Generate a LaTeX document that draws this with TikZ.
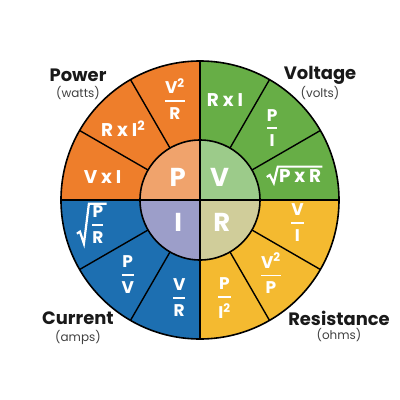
\documentclass[tikz,border=0pt]{standalone}
\usepackage{fontspec}
\setmainfont{Poppins}
\usepackage{amsmath}
\usetikzlibrary{calc}

\definecolor{pwrout}{HTML}{EE7E2B}
\definecolor{pwrin}{HTML}{F0A36C}
\definecolor{voltout}{HTML}{67AE46}
\definecolor{voltin}{HTML}{9CCB8A}
\definecolor{ampout}{HTML}{1D6FB1}
\definecolor{ampin}{HTML}{9C9EC9}
\definecolor{ohmout}{HTML}{F4BA30}
\definecolor{ohmin}{HTML}{D0CD9A}

\newcommand{\qfrac}[2]{$\genfrac{}{}{1.8bp}{0}{\hbox{#1}}{\hbox{#2}}$}
\newcommand{\qsq}{\textsuperscript{2}}

\begin{document}
\begin{tikzpicture}[x=1bp,y=1bp]
\tikzstyle{every node}=[inner sep=0pt]
\tikzstyle{formula}=[text=white, font=\bfseries\fontsize{17}{20}\selectfont]
\tikzstyle{product}=[text=white, font=\bfseries\fontsize{18.5}{22}\selectfont]
\tikzstyle{letter}=[text=white, font=\bfseries\fontsize{26}{30}\selectfont]
\tikzstyle{quantity}=[text=black!90, font=\bfseries\fontsize{18}{21}\selectfont]
\tikzstyle{unit}=[text=black!75, font=\fontsize{12}{14}\selectfont]
\tikzstyle{radical}=[white, line width=2.2bp, line join=miter, line cap=butt]
\useasboundingbox (-200,-200) rectangle (200,200);
% quadrants
\fill[pwrout] (0,0) -- (180:139) arc[start angle=180, end angle=90, radius=139] -- cycle;
\fill[voltout] (0,0) -- (90:139) arc[start angle=90, end angle=0, radius=139] -- cycle;
\fill[ohmout] (0,0) -- (0:139) arc[start angle=0, end angle=-90, radius=139] -- cycle;
\fill[ampout] (0,0) -- (270:139) arc[start angle=270, end angle=180, radius=139] -- cycle;
\fill[pwrin] (0,0) -- (180:60) arc[start angle=180, end angle=90, radius=60] -- cycle;
\fill[voltin] (0,0) -- (90:60) arc[start angle=90, end angle=0, radius=60] -- cycle;
\fill[ohmin] (0,0) -- (0:60) arc[start angle=0, end angle=-90, radius=60] -- cycle;
\fill[ampin] (0,0) -- (270:60) arc[start angle=270, end angle=180, radius=60] -- cycle;
% borders
\draw[line width=1.6bp] (0,0) circle[radius=139];
\draw[line width=1.6bp] (0,0) circle[radius=60];
\draw[line width=1.6bp] (-139,0) -- (139,0) (0,-139) -- (0,139);
\foreach \a in {30,60,120,150,210,240,300,330}
  \draw[line width=1.4bp] (\a:60) -- (\a:139);
% centre letters
\node[letter] (p) at (134:32) {P};
\node[letter] (v) at (49:30) {V};
\node[letter] (i) at (225:31) {I};
\node[letter] (r) at (315:31) {R};
% power
\node[formula] (p1) at (104:104) {\qfrac{V\qsq}{R}};
\node[product] (p2) at (137:105) {R x I\qsq};
\node[product] (p3) at (167:100) {V x I};
% voltage
\node[product] (v1) at (76:103) {R x I};
\node[formula] (v2) at (45:102) {\qfrac{P}{I}};
\node[product] (v3) at ($(14:98)+(5,0)$) {P x R};
\draw[radical] ($(v3.south west)+(-12,6)$) -- ++(3,2) -- ($(v3.south west)+(-5,0)$)
  -- ($(v3.north west)+(-1,3)$) -- ($(v3.north east)+(1,3)$);
% current
\node[formula] (i1) at ($(193:110)+(5,0)$) {\qfrac{P}{R}};
\draw[radical] ($(i1.south west)+(-14,10)$) -- ++(3,2) -- ($(i1.south west)+(-7,0)$)
  -- ($(i1.north west)+(-2,2)$) -- ($(i1.north east)+(2,2)$);
\node[formula] (i2) at (226:104) {\qfrac{P}{V}};
\node[formula] (i3) at (258:100) {\qfrac{V}{R}};
% resistance
\node[formula] (r1) at (284:101) {\qfrac{P}{I\qsq}};
\node[formula] (r2) at (314:102) {\qfrac{V\qsq}{P}};
\node[formula] (r3) at (347:100) {\qfrac{V}{I}};
% names
\node[quantity] (power) at (-122,125) {Power};
\node[unit] (watts) at (-122,107) {(watts)};
\node[quantity] (voltage) at (120,125) {Voltage};
\node[unit] (volts) at (120,107) {(volts)};
\node[quantity] (current) at (-122,-118) {Current};
\node[unit] (amps) at (-122,-137) {(amps)};
\node[quantity] (resistance) at (139,-118) {Resistance};
\node[unit] (ohms) at (139,-135) {(ohms)};
\end{tikzpicture}
\end{document}
